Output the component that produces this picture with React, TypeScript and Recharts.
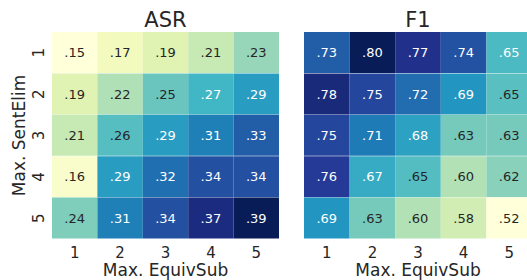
import { BarChart, Bar, XAxis, YAxis, Cell, LabelList } from "recharts";

const rows = ["1", "2", "3", "4", "5"];
const cols = ["1", "2", "3", "4", "5"];

const asr = [
  [0.15, 0.17, 0.19, 0.21, 0.23],
  [0.19, 0.22, 0.25, 0.27, 0.29],
  [0.21, 0.26, 0.29, 0.31, 0.33],
  [0.16, 0.29, 0.32, 0.34, 0.34],
  [0.24, 0.31, 0.34, 0.37, 0.39],
];

const f1 = [
  [0.73, 0.8, 0.77, 0.74, 0.654],
  [0.78, 0.75, 0.72, 0.69, 0.646],
  [0.75, 0.71, 0.68, 0.63, 0.63],
  [0.76, 0.67, 0.65, 0.6, 0.62],
  [0.69, 0.63, 0.6, 0.58, 0.52],
];

const FONT = "DejaVu Sans";
const INK = "#262626";

// matplotlib YlGnBu stops
const ylgnbu = ["#ffffd9", "#edf8b1", "#c7e9b4", "#7fcdbb", "#41b6c4", "#1d91c0", "#225ea8", "#253494", "#081d58"];

function hexRgb(h: string) {
  return [1, 3, 5].map((k) => parseInt(h.slice(k, k + 2), 16));
}

function cmap(t: number) {
  const n = ylgnbu.length - 1;
  const s = Math.max(0, Math.min(1, t)) * n;
  const i = Math.min(Math.floor(s), n - 1);
  const f = s - i;
  const a = hexRgb(ylgnbu[i]);
  const b = hexRgb(ylgnbu[i + 1]);
  return a.map((v, k) => Math.round(v + (b[k] - v) * f));
}

function luminance(rgb: number[]) {
  const lin = rgb.map((c) => {
    const v = c / 255;
    return v <= 0.03928 ? v / 12.92 : Math.pow((v + 0.055) / 1.055, 2.4);
  });
  return 0.2126 * lin[0] + 0.7152 * lin[1] + 0.0722 * lin[2];
}

const fmt = (v: number) => v.toFixed(2).replace(/^0/, "");

const YTick = (props: any) => {
  const { x, y, payload } = props;
  const cx = x;
  return (
    <text
      x={cx}
      y={y}
      transform={`rotate(-90 ${cx} ${y})`}
      textAnchor="middle"
      fontFamily={FONT}
      fontSize={15}
      fill={INK}
    >
      {payload.value}
    </text>
  );
};

const XTick = (props: any) => {
  const { x, y, payload } = props;
  return (
    <text x={x} y={y + 10.5} textAnchor="middle" fontFamily={FONT} fontSize={15} fill={INK}>
      {cols[Math.floor(payload.value)]}
    </text>
  );
};

const XLabel = (p: any) => {
  const vb = p.viewBox;
  return (
    <text x={vb.x + vb.width / 2} y={vb.y + vb.height - 4} textAnchor="middle" fontFamily={FONT} fontSize={17} fill={INK}>
      Max. EquivSub
    </text>
  );
};

const YLabel = (p: any) => {
  const vb = p.viewBox;
  const x = vb.x + 25;
  const y = vb.y + vb.height / 2;
  return (
    <text x={x} y={y} transform={`rotate(-90 ${x} ${y})`} textAnchor="middle" fontFamily={FONT} fontSize={17} fill={INK}>
      Max. SentElim
    </text>
  );
};

function Heatmap({
  title,
  values,
  width,
  left,
  right,
  showY,
}: {
  title: string;
  values: number[][];
  width: number;
  left: number;
  right: number;
  showY: boolean;
}) {
  const flat = values.flat();
  const vmin = Math.min(...flat);
  const vmax = Math.max(...flat);
  const data = rows.map((r) => {
    const d: Record<string, string | number> = { row: r };
    cols.forEach((_, j) => {
      d["c" + j] = 1;
    });
    return d;
  });
  const yw = showY ? 52 : 0;
  const plotLeft = left + yw;
  const plotW = width - plotLeft - right;

  return (
    <div style={{ position: "relative", width, height: 280 }}>
      <div
        style={{
          position: "absolute",
          left: plotLeft,
          width: plotW,
          top: 8,
          textAlign: "center",
          fontFamily: FONT,
          fontSize: 21,
          lineHeight: "24px",
          color: INK,
        }}
      >
        {title}
      </div>
      <BarChart
        width={width}
        height={280}
        data={data}
        layout="vertical"
        margin={{ top: 32, right, bottom: 0, left }}
        barCategoryGap={0}
        barGap={0}
      >
        <XAxis
          type="number"
          domain={[0, cols.length]}
          ticks={cols.map((_, j) => j + 0.5)}
          tick={<XTick />}
          tickLine={false}
          axisLine={false}
          height={41}
          interval={0}
          label={<XLabel />}
        />
        <YAxis
          type="category"
          dataKey="row"
          hide={!showY}
          width={yw}
          tick={<YTick />}
          tickLine={false}
          axisLine={false}
          interval={0}
          label={<YLabel />}
        />
        {cols.map((c, j) => (
          <Bar key={c} dataKey={"c" + j} stackId="s" isAnimationActive={false}>
            {rows.map((r, i) => (
              <Cell key={r} fill={`rgb(${cmap((values[i][j] - vmin) / (vmax - vmin)).join(",")})`} />
            ))}
            <LabelList
              content={(p: any) => {
                const v = values[p.index][j];
                const rgb = cmap((v - vmin) / (vmax - vmin));
                return (
                  <text
                    x={p.x + p.width / 2}
                    y={p.y + p.height / 2 + 4.7}
                    textAnchor="middle"
                    fontFamily={FONT}
                    fontSize={13}
                    fill={luminance(rgb) > 0.408 ? INK : "#ffffff"}
                  >
                    {fmt(v)}
                  </text>
                );
              }}
            />
          </Bar>
        ))}
      </BarChart>
    </div>
  );
}

export default function App() {
  return (
    <div
      style={{
        position: "absolute",
        top: 0,
        left: 0,
        width: 527,
        height: 280,
        overflow: "hidden",
        background: "#fff",
      }}
    >
      <div style={{ position: "absolute", left: 0, top: 0 }}>
        <Heatmap title="ASR" values={asr} width={285} left={0} right={6} showY />
      </div>
      <div style={{ position: "absolute", left: 285, top: 0 }}>
        <Heatmap title="F1" values={f1} width={247} left={19} right={0} showY={false} />
      </div>
    </div>
  );
}
